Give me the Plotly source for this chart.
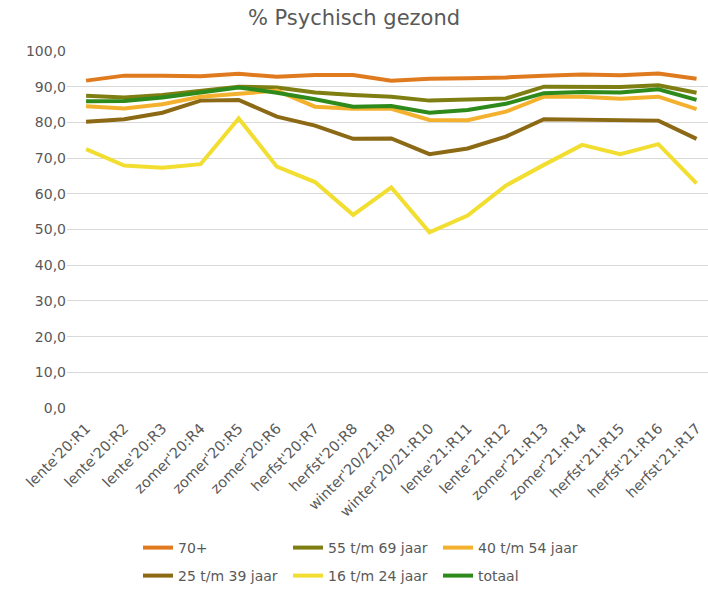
import plotly.graph_objects as go

categories = ["lente'20:R1", "lente'20:R2", "lente'20:R3", "zomer'20:R4", "zomer'20:R5",
              "zomer'20:R6", "herfst'20:R7", "herfst'20:R8", "winter'20/21:R9",
              "winter'20/21:R10", "lente'21:R11", "lente'21:R12", "zomer'21:R13",
              "zomer'21:R14", "herfst'21:R15", "herfst'21:R16", "herfst'21:R17"]

s70 = [91.7, 93.1, 93.1, 92.9, 93.6, 92.8, 93.3, 93.3, 91.7, 92.2, 92.4, 92.6, 93.1, 93.4, 93.2, 93.7, 92.2]
s55_69 = [87.5, 87.0, 87.7, 88.9, 90.0, 89.8, 88.4, 87.7, 87.2, 86.1, 86.4, 86.7, 90.0, 90.0, 89.9, 90.4, 88.3]
s40_54 = [84.5, 83.9, 85.1, 87.2, 88.0, 88.9, 84.4, 83.8, 83.8, 80.7, 80.6, 83.0, 87.2, 87.2, 86.6, 87.2, 83.7]
s25_39 = [80.2, 80.9, 82.7, 86.1, 86.3, 81.6, 79.1, 75.4, 75.5, 71.1, 72.7, 76.0, 80.9, 80.7, 80.7, 80.5, 75.4]
s16_24 = [72.5, 67.9, 67.3, 68.3, 81.1, 67.6, 63.3, 54.1, 61.8, 49.2, 53.9, 62.3, 68.1, 73.7, 71.1, 73.9, 62.9]
totaal = [85.9, 86.0, 87.0, 88.5, 89.8, 88.3, 86.5, 84.4, 84.6, 82.7, 83.5, 85.2, 88.2, 88.5, 88.4, 89.3, 86.3]

series_names = ["70+", "55 t/m 69 jaar", "40 t/m 54 jaar", "25 t/m 39 jaar", "16 t/m 24 jaar", "totaal"]
series_values = [s70, s55_69, s40_54, s25_39, s16_24, totaal]
series_colors = ["#E07A1F", "#7E7E12", "#F4B12E", "#8C6914", "#F2DE30", "#2F8A1C"]

y_ticks = [0, 10, 20, 30, 40, 50, 60, 70, 80, 90, 100]

fig = go.Figure()
for i, (name, vals, col) in enumerate(zip(series_names, series_values, series_colors)):
    fig.add_trace(go.Scatter(x=list(range(len(categories))), y=vals, name=name, mode="lines",
                             line=dict(color=col, width=4),
                             legend="legend" if i < 3 else "legend2"))

font_fam = "DejaVu Sans, Verdana, sans-serif"
gray = "#595959"

leg_common = dict(orientation="h", xref="container", yref="container", x=138 / 708, xanchor="left",
                  yanchor="middle", entrywidth=105, entrywidthmode="pixels", itemwidth=30,
                  font=dict(size=14, color=gray), traceorder="normal", bgcolor="rgba(0,0,0,0)")

fig.update_layout(
    width=708, height=590,
    paper_bgcolor="white", plot_bgcolor="white",
    separators=",.",
    margin=dict(l=67, r=0, t=51, b=182, autoexpand=False),
    title=dict(text="% Psychisch gezond", x=0.5, xanchor="center", y=1 - 18 / 590, yanchor="middle",
               font=dict(family=font_fam, size=21, color=gray)),
    font=dict(family=font_fam, color=gray),
    xaxis=dict(tickmode="array", tickvals=list(range(len(categories))), ticktext=categories,
               range=[-0.5, 16.3], tickangle=-45, showgrid=False, zeroline=False, automargin=False,
               showline=False, ticks="", ticklabelstandoff=8, tickfont=dict(size=14.5, color=gray)),
    yaxis=dict(range=[0, 100], tickvals=y_ticks, tickformat=".1f", showgrid=True, automargin=False,
               gridcolor="#D9D9D9", gridwidth=1, zeroline=False, showline=False,
               ticks="", tickfont=dict(size=14, color=gray)),
    showlegend=True,
    legend=dict(leg_common, y=1 - 548 / 590),
    legend2=dict(leg_common, y=1 - 576 / 590),
)

fig.write_html("out.html", config={"displayModeBar": False},
               post_script="document.body.style.margin='0';document.body.style.overflow='hidden';")
